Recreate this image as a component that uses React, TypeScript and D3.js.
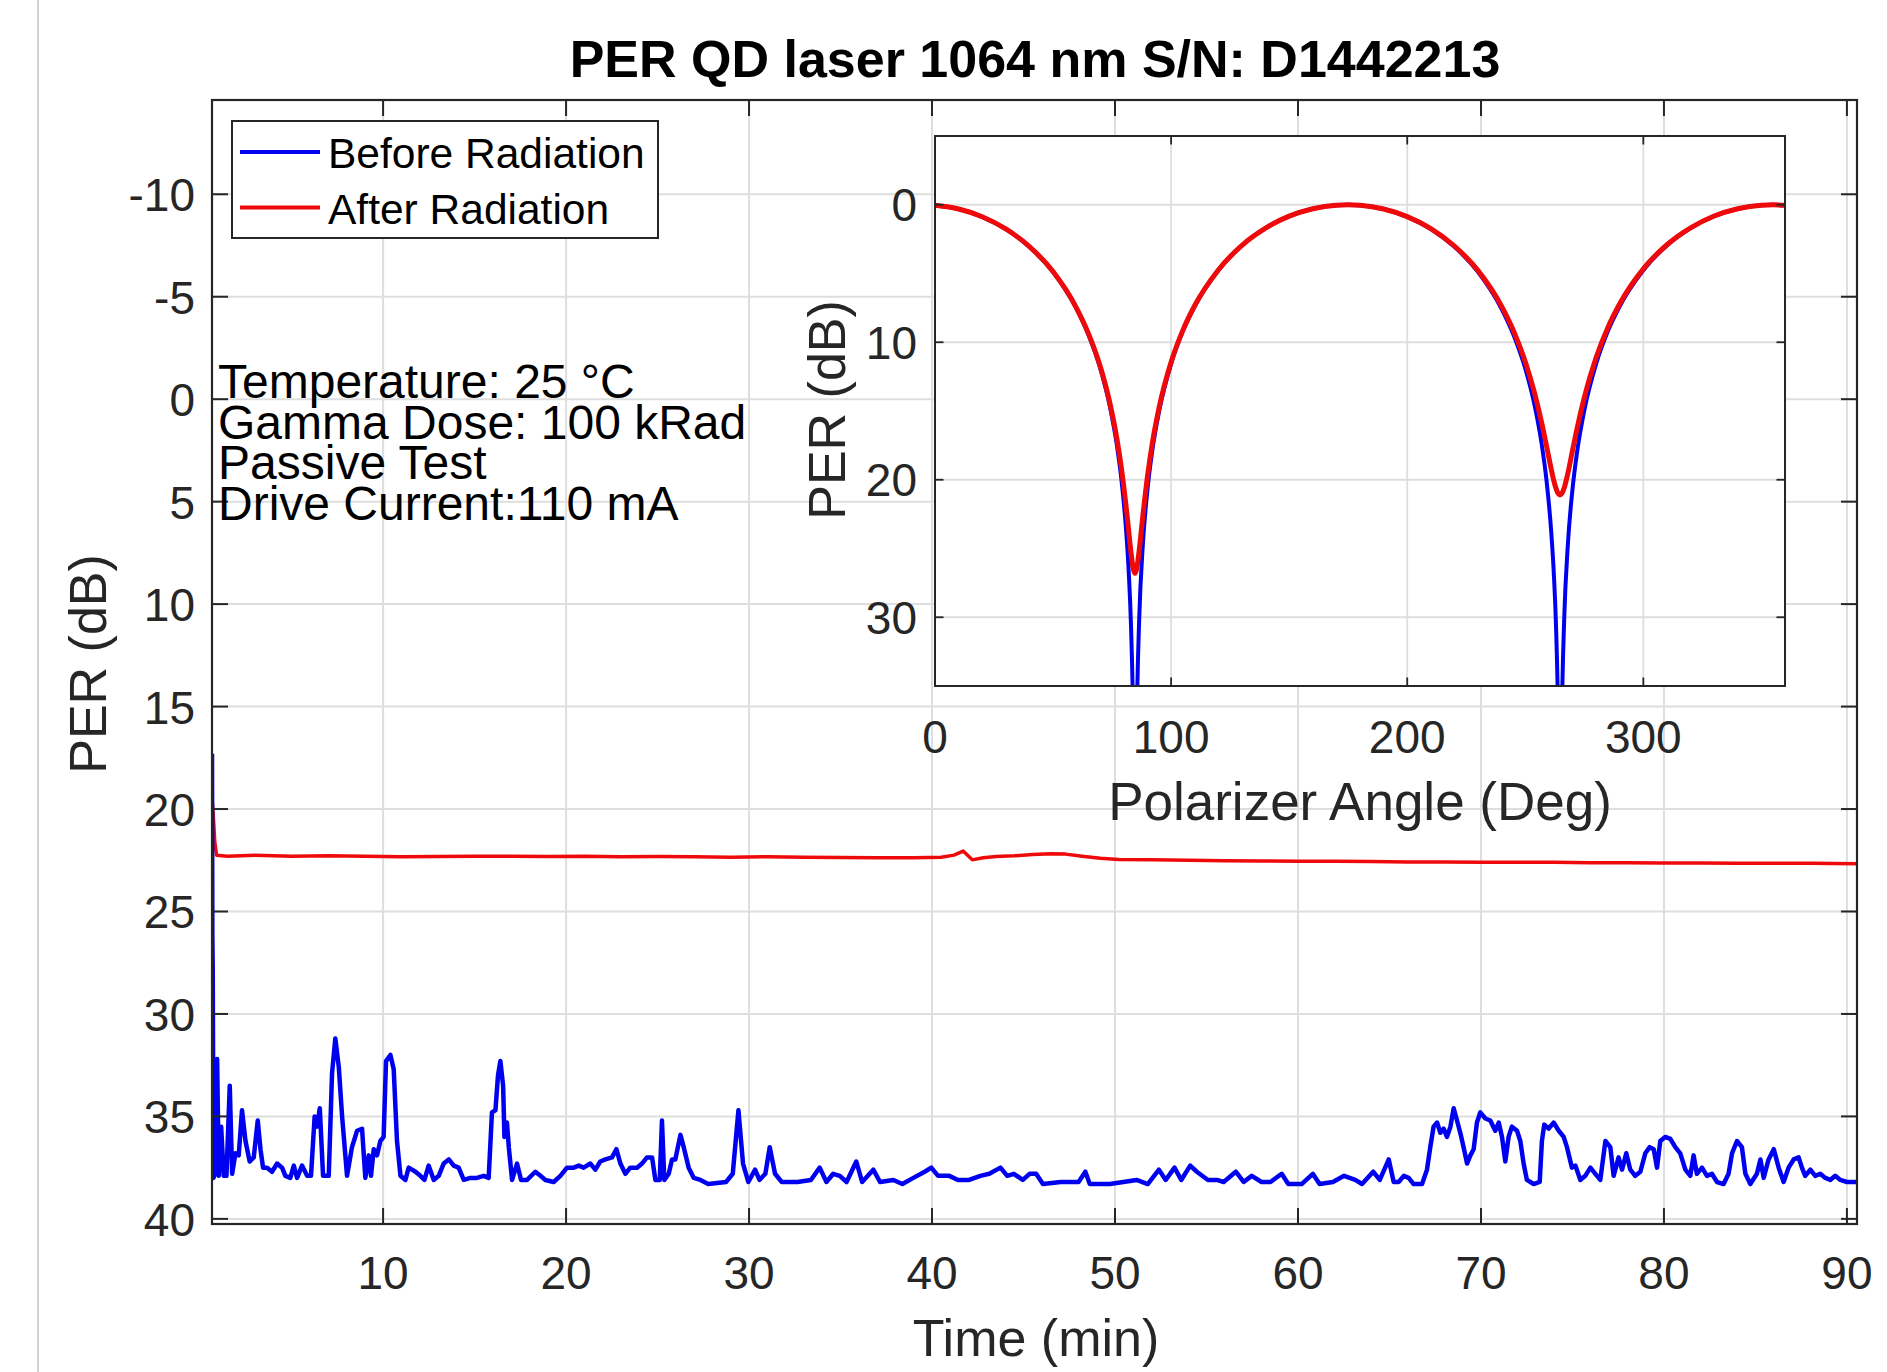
import React from 'react';
import * as d3 from 'd3';

// ---- main plot: PER vs time ----
const timeBefore = [
  0.65, 0.67, 0.69, 0.71, 0.73, 0.78, 0.84, 0.93, 1.02, 1.15, 1.29, 1.44, 1.62, 1.75, 1.93, 2.11, 2.29, 2.48, 2.71, 2.93,
  3.15, 3.3, 3.44, 3.66, 3.93, 4.21, 4.48, 4.66, 4.93, 5.12, 5.3, 5.57, 5.85, 6.06, 6.26, 6.39, 6.54, 6.72, 7.03, 7.21,
  7.39, 7.58, 7.76, 8.03, 8.3, 8.58, 8.85, 9.03, 9.22, 9.34, 9.49, 9.67, 9.85, 10.03, 10.16, 10.4, 10.58, 10.76, 10.95, 11.22,
  11.4, 11.77, 12.04, 12.26, 12.49, 12.77, 13.04, 13.31, 13.59, 13.86, 14.13, 14.41, 14.77, 15.13, 15.5, 15.77, 15.95, 16.14, 16.28, 16.41,
  16.56, 16.63, 16.77, 16.87, 17.05, 17.32, 17.54, 17.87, 18.32, 18.6, 18.87, 19.32, 19.69, 20.05, 20.42, 20.69, 20.96, 21.33, 21.6, 21.87,
  22.15, 22.51, 22.75, 22.97, 23.24, 23.51, 23.88, 24.15, 24.42, 24.7, 24.88, 25.12, 25.24, 25.37, 25.61, 25.79, 25.97, 26.25, 26.43, 26.7,
  26.98, 27.34, 27.77, 28.74, 29.11, 29.42, 29.67, 29.96, 30.33, 30.57, 30.89, 31.13, 31.42, 31.79, 32.64, 33.38, 33.86, 34.23, 34.6, 34.96,
  35.33, 35.86, 36.18, 36.79, 37.16, 37.89, 38.38, 38.98, 39.6, 39.96, 40.33, 40.94, 41.42, 42.03, 42.64, 43.13, 43.74, 44.11, 44.47, 44.96,
  45.33, 45.69, 46.06, 47.03, 48.01, 48.38, 48.62, 49.72, 50.45, 51.18, 51.79, 52.4, 52.77, 53.25, 53.62, 54.11, 54.47, 55.08, 55.57, 55.94,
  56.6, 57.03, 57.47, 58.01, 58.5, 59.11, 59.47, 60.2, 60.81, 61.18, 61.91, 62.52, 63.13, 63.5, 64.11, 64.47, 64.96, 65.23, 65.5, 65.78,
  66.05, 66.32, 66.78, 67.05, 67.23, 67.41, 67.6, 67.78, 67.96, 68.14, 68.33, 68.51, 68.69, 68.87, 69.05, 69.24, 69.42, 69.6, 69.78, 69.96,
  70.24, 70.51, 70.78, 70.97, 71.15, 71.33, 71.51, 71.69, 71.97, 72.15, 72.33, 72.51, 72.88, 73.21, 73.33, 73.46, 73.7, 73.97, 74.25, 74.52,
  74.7, 74.97, 75.16, 75.43, 75.7, 75.98, 76.25, 76.52, 76.8, 77.07, 77.25, 77.52, 77.71, 77.94, 78.16, 78.43, 78.71, 78.98, 79.22, 79.44,
  79.62, 79.8, 80.07, 80.35, 80.62, 80.89, 81.17, 81.44, 81.62, 81.8, 82.08, 82.35, 82.62, 82.9, 83.26, 83.53, 83.72, 83.99, 84.26, 84.45,
  84.72, 85.08, 85.27, 85.45, 85.72, 86.0, 86.27, 86.54, 86.81, 87.09, 87.36, 87.54, 87.72, 88.0, 88.27, 88.54, 88.82, 89.09, 89.36, 89.64,
  90.0, 90.6
];
const perBefore = [
  17.3, 26.2, 27.8, 32.4, 38.0, 37.9, 34.7, 32.2, 37.9, 35.5, 37.9, 37.9, 33.5, 37.8, 36.8, 36.9, 34.7, 36.2, 37.2, 37.0,
  35.2, 36.6, 37.5, 37.5, 37.7, 37.3, 37.5, 37.9, 38.0, 37.4, 38.0, 37.4, 37.9, 37.9, 35.0, 35.5, 34.6, 37.9, 37.9, 32.9,
  31.2, 32.6, 35.0, 37.9, 36.5, 35.7, 35.6, 38.0, 36.9, 37.9, 36.6, 36.9, 36.2, 36.0, 32.3, 32.0, 32.7, 36.2, 37.9, 38.1,
  37.5, 37.7, 37.9, 38.1, 37.4, 38.1, 37.9, 37.3, 37.1, 37.4, 37.5, 38.1, 38.0, 38.0, 37.9, 38.0, 34.8, 34.7, 33.0, 32.3,
  33.5, 36.0, 35.3, 36.5, 38.1, 37.3, 38.1, 38.1, 37.7, 37.9, 38.1, 38.2, 37.9, 37.5, 37.5, 37.4, 37.5, 37.3, 37.6, 37.2,
  37.1, 37.0, 36.6, 37.3, 37.8, 37.5, 37.5, 37.3, 37.0, 37.0, 38.1, 38.1, 35.2, 38.1, 37.8, 37.1, 37.1, 35.9, 36.5, 37.5,
  38.0, 38.1, 38.3, 38.2, 37.8, 34.7, 37.3, 38.2, 37.6, 38.1, 37.8, 36.5, 37.8, 38.2, 38.2, 38.1, 37.5, 38.2, 37.8, 37.9,
  38.2, 37.2, 38.2, 37.6, 38.2, 38.1, 38.3, 38.0, 37.7, 37.5, 37.9, 37.9, 38.1, 38.1, 37.9, 37.8, 37.5, 37.9, 37.8, 38.1,
  37.8, 37.8, 38.3, 38.2, 38.2, 37.7, 38.3, 38.3, 38.2, 38.1, 38.3, 37.6, 38.1, 37.5, 38.1, 37.4, 37.7, 38.1, 38.1, 38.2,
  37.7, 38.2, 37.9, 38.2, 38.2, 37.8, 38.3, 38.3, 37.8, 38.3, 38.2, 37.9, 38.1, 38.3, 37.7, 38.1, 37.1, 38.2, 38.2, 37.9,
  38.0, 38.3, 38.3, 37.6, 36.5, 35.5, 35.3, 35.8, 35.6, 36.0, 35.5, 34.6, 35.2, 35.8, 36.5, 37.3, 36.9, 36.6, 35.3, 34.8,
  35.1, 35.2, 35.7, 35.3, 36.0, 37.2, 36.0, 35.5, 35.7, 36.2, 37.3, 38.1, 38.3, 38.2, 36.2, 35.4, 35.6, 35.3, 35.7, 36.0,
  36.5, 37.5, 37.4, 38.1, 37.9, 37.5, 37.8, 38.1, 36.2, 36.5, 37.9, 37.0, 37.6, 36.8, 37.6, 37.9, 37.7, 36.8, 36.5, 36.6,
  37.5, 36.2, 36.0, 36.1, 36.5, 36.8, 37.6, 37.9, 36.9, 37.8, 37.5, 37.9, 37.8, 38.2, 38.3, 37.8, 36.8, 36.2, 36.5, 37.8,
  38.3, 37.8, 37.1, 38.0, 37.1, 36.6, 37.5, 38.2, 37.5, 37.1, 37.0, 37.5, 37.9, 37.6, 37.9, 37.8, 38.0, 38.1, 37.9, 38.1,
  38.2, 38.2
];

const timeAfter = [
  0.65, 0.72, 0.8, 0.9, 1.5, 3, 5, 7, 9, 11, 13, 15, 17, 19, 21, 23, 25, 27, 29, 31,
  33, 35, 37, 39, 40.5, 41.2, 41.7, 42.2, 42.8, 43.5, 44.5, 45.5, 46.5, 47.3, 48.2, 49.2, 50.2, 52, 54, 56,
  58, 60, 62, 64, 66, 68, 70, 72, 74, 76, 78, 80, 82, 84, 86, 88, 90.6
];
const perAfter = [
  19.4, 20.3, 21.6, 22.25, 22.3, 22.25, 22.3, 22.28, 22.3, 22.33, 22.32, 22.3, 22.3, 22.32, 22.3, 22.33, 22.32, 22.33, 22.35, 22.33,
  22.35, 22.36, 22.38, 22.38, 22.35, 22.25, 22.05, 22.48, 22.38, 22.32, 22.28, 22.22, 22.18, 22.2, 22.3, 22.4, 22.46, 22.48, 22.5, 22.52,
  22.53, 22.55, 22.55, 22.56, 22.58, 22.58, 22.6, 22.6, 22.6, 22.62, 22.62, 22.63, 22.63, 22.64, 22.64, 22.65, 22.67
];

// ---- inset: PER vs polarizer angle ----
const angleDeg = [
  0, 10, 20, 30, 40, 50, 60, 65, 70, 74, 77, 79, 81, 82, 83, 84, 84.7, 85.5, 86.5, 88,
  90, 92, 95, 100, 105, 110, 120, 130, 140, 150, 160, 170, 175, 180, 190, 200, 210, 220, 230, 240,
  245, 250, 254, 257, 259, 261, 262, 263, 264, 264.7, 265.5, 266.5, 268, 270, 272, 275, 280, 285, 290, 300,
  310, 320, 330, 340, 350, 355, 360
];
const sweepBefore = [
  0.04, 0.31, 0.88, 1.77, 3.06, 4.89, 7.58, 9.45, 11.91, 14.63, 17.46, 20.06, 23.81, 26.54, 30.55, 38.26, 50, 37.1, 30.06, 24.8,
  20.69, 17.92, 14.95, 11.57, 9.19, 7.38, 4.76, 2.96, 1.7, 0.83, 0.29, 0.03, 0.0, 0.04, 0.31, 0.88, 1.77, 3.06, 4.89, 7.58,
  9.45, 11.91, 14.63, 17.46, 20.06, 23.81, 26.54, 30.55, 38.26, 50, 37.1, 30.06, 24.8, 20.69, 17.92, 14.95, 11.57, 9.19, 7.38, 4.76,
  2.96, 1.7, 0.83, 0.29, 0.03, 0.0, 0.04
];
const sweepAfter = [
  0.04, 0.31, 0.87, 1.76, 3.04, 4.86, 7.53, 9.37, 11.77, 14.37, 16.98, 19.22, 22.04, 23.66, 25.27, 26.5, 26.8, 26.41, 25.12, 22.67,
  19.74, 17.39, 14.68, 11.44, 9.12, 7.33, 4.74, 2.95, 1.7, 0.83, 0.29, 0.03, 0.0, 0.04, 0.31, 0.86, 1.73, 3.0, 4.79, 7.39,
  9.16, 11.42, 13.74, 15.9, 17.54, 19.24, 20.01, 20.63, 21.02, 21.1, 20.99, 20.58, 19.56, 17.88, 16.22, 14.01, 11.11, 8.92, 7.2, 4.66,
  2.91, 1.68, 0.82, 0.29, 0.03, 0.0, 0.04
];

const timeTicks = [10, 20, 30, 40, 50, 60, 70, 80, 90];
const perTicks = [-10, -5, 0, 5, 10, 15, 20, 25, 30, 35, 40];
const angleTicks = [0, 100, 200, 300];
const sweepTicks = [0, 10, 20, 30];

const seriesNames = ['Before Radiation', 'After Radiation'];
const seriesColors = ['#0000f0', '#ee0a0a'];
const noteLines = ['Temperature: 25 °C', 'Gamma Dose: 100 kRad', 'Passive Test', 'Drive Current:110 mA'];

const FONT = '"Liberation Sans", Arial, Helvetica, sans-serif';
const AXIS = '#262626';
const GRID = '#dedede';

const App = () => {
  const W = 1887;
  const H = 1372;

  // main axes
  const x = d3.scaleLinear().domain([0.65, 90.55]).range([212, 1857]);
  const y = d3.scaleLinear().domain([-14.6, 40.25]).range([100, 1224]);
  // inset axes
  const ix = d3.scaleLinear().domain([0, 360]).range([935, 1785]);
  const iy = d3.scaleLinear().domain([-5, 35]).range([136, 686]);

  const [x0, x1] = x.range();
  const [y0, y1] = y.range();
  const [ix0, ix1] = ix.range();
  const [iy0, iy1] = iy.range();

  const lineBefore = d3.line<number>()
    .x((d, i) => x(timeBefore[i]))
    .y(d => y(d));
  const lineAfter = d3.line<number>()
    .x((d, i) => x(timeAfter[i]))
    .y(d => y(d));
  const sweepLine = d3.line<number>()
    .x((d, i) => ix(angleDeg[i]))
    .y(d => iy(d))
    .curve(d3.curveMonotoneX);

  const tick = 16;
  const itick = 8.5;

  return (
    <svg width={W} height={H} style={{ position: 'absolute', left: 0, top: 0, display: 'block', background: '#fff' }}
      fontFamily={FONT}>
      <defs>
        <clipPath id="mainClip"><rect x={x0} y={y0} width={x1 - x0} height={y1 - y0} /></clipPath>
        <clipPath id="insetClip"><rect x={ix0} y={iy0} width={ix1 - ix0} height={iy1 - iy0} /></clipPath>
      </defs>
      <rect x={0} y={0} width={W} height={H} fill="#fff" />
      <line x1={38} x2={38} y1={0} y2={H} stroke="#cfd0d8" strokeWidth={2} />

      {/* main grid */}
      {timeTicks.map(t => (
        <line key={'gx' + t} x1={x(t)} x2={x(t)} y1={y0} y2={y1} stroke={GRID} strokeWidth={2} />
      ))}
      {perTicks.map(t => (
        <line key={'gy' + t} x1={x0} x2={x1} y1={y(t)} y2={y(t)} stroke={GRID} strokeWidth={2} />
      ))}

      {/* main data */}
      <g clipPath="url(#mainClip)" fill="none" strokeLinejoin="round">
        <path d={lineAfter(perAfter) || ''} stroke={seriesColors[1]} strokeWidth={3.5} />
        <path d={lineBefore(perBefore) || ''} stroke={seriesColors[0]} strokeWidth={4.5} />
      </g>

      {/* main box + ticks */}
      <rect x={x0} y={y0} width={x1 - x0} height={y1 - y0} fill="none" stroke={AXIS} strokeWidth={2.2} />
      {timeTicks.map(t => (
        <g key={'tx' + t} stroke={AXIS} strokeWidth={2}>
          <line x1={x(t)} x2={x(t)} y1={y1} y2={y1 - tick} />
          <line x1={x(t)} x2={x(t)} y1={y0} y2={y0 + tick} />
        </g>
      ))}
      {perTicks.map(t => (
        <g key={'ty' + t} stroke={AXIS} strokeWidth={2}>
          <line x1={x0} x2={x0 + tick} y1={y(t)} y2={y(t)} />
          <line x1={x1} x2={x1 - tick} y1={y(t)} y2={y(t)} />
        </g>
      ))}
      {timeTicks.map(t => (
        <text key={'lx' + t} x={x(t)} y={1289} fontSize={46} textAnchor="middle" fill="#262626">{t}</text>
      ))}
      {perTicks.map(t => (
        <text key={'ly' + t} x={x0 - 17} y={y(t) + 17} fontSize={46} textAnchor="end" fill="#262626">{t}</text>
      ))}
      <text x={1036} y={1356} fontSize={52} textAnchor="middle" fill="#262626">Time (min)</text>
      <text transform="translate(106,664) rotate(-90)" fontSize={52} textAnchor="middle" fill="#262626">PER (dB)</text>
      <text x={1035} y={77} fontSize={52} fontWeight="bold" textAnchor="middle" fill="#000">
        PER QD laser 1064 nm S/N: D1442213
      </text>

      {/* annotation, one text block with tight line spacing */}
      <text x={218} y={398} fontSize={48} fill="#000">
        {noteLines.map((s, i) => (
          <tspan key={'n' + i} x={218} dy={i === 0 ? 0 : 40.5}>{s}</tspan>
        ))}
      </text>

      {/* legend */}
      <rect x={232} y={121} width={426} height={117} fill="#fff" stroke={AXIS} strokeWidth={2} />
      {seriesNames.map((s, i) => (
        <g key={'lg' + i}>
          <line x1={240} x2={320} y1={152 + i * 55.5} y2={152 + i * 55.5} stroke={seriesColors[i]} strokeWidth={4} />
          <text x={328} y={168 + i * 55.5} fontSize={42.5} fill="#000">{s}</text>
        </g>
      ))}

      {/* inset */}
      <rect x={ix0} y={iy0} width={ix1 - ix0} height={iy1 - iy0} fill="#fff" />
      {angleTicks.filter(t => t > 0).map(t => (
        <line key={'igx' + t} x1={ix(t)} x2={ix(t)} y1={iy0} y2={iy1} stroke={GRID} strokeWidth={1.8} />
      ))}
      {sweepTicks.map(t => (
        <line key={'igy' + t} x1={ix0} x2={ix1} y1={iy(t)} y2={iy(t)} stroke={GRID} strokeWidth={1.8} />
      ))}
      <g clipPath="url(#insetClip)" fill="none" strokeLinejoin="round">
        <path d={sweepLine(sweepBefore) || ''} stroke={seriesColors[0]} strokeWidth={4} />
        <path d={sweepLine(sweepAfter) || ''} stroke={seriesColors[1]} strokeWidth={5} />
      </g>
      <rect x={ix0} y={iy0} width={ix1 - ix0} height={iy1 - iy0} fill="none" stroke={AXIS} strokeWidth={2} />
      {angleTicks.map(t => (
        <g key={'itx' + t} stroke={AXIS} strokeWidth={1.8}>
          <line x1={ix(t)} x2={ix(t)} y1={iy1} y2={iy1 - itick} />
          <line x1={ix(t)} x2={ix(t)} y1={iy0} y2={iy0 + itick} />
        </g>
      ))}
      {sweepTicks.map(t => (
        <g key={'ity' + t} stroke={AXIS} strokeWidth={1.8}>
          <line x1={ix0} x2={ix0 + itick} y1={iy(t)} y2={iy(t)} />
          <line x1={ix1} x2={ix1 - itick} y1={iy(t)} y2={iy(t)} />
        </g>
      ))}
      {angleTicks.map(t => (
        <text key={'ilx' + t} x={ix(t)} y={753} fontSize={46} textAnchor="middle" fill="#262626">{t}</text>
      ))}
      {sweepTicks.map(t => (
        <text key={'ily' + t} x={ix0 - 18} y={iy(t) + 16.5} fontSize={46} textAnchor="end" fill="#262626">{t}</text>
      ))}
      <text x={1360} y={820} fontSize={53} textAnchor="middle" fill="#262626">Polarizer Angle (Deg)</text>
      <text transform="translate(845,410) rotate(-90)" fontSize={52} textAnchor="middle" fill="#262626">PER (dB)</text>
    </svg>
  );
};

export default App;
